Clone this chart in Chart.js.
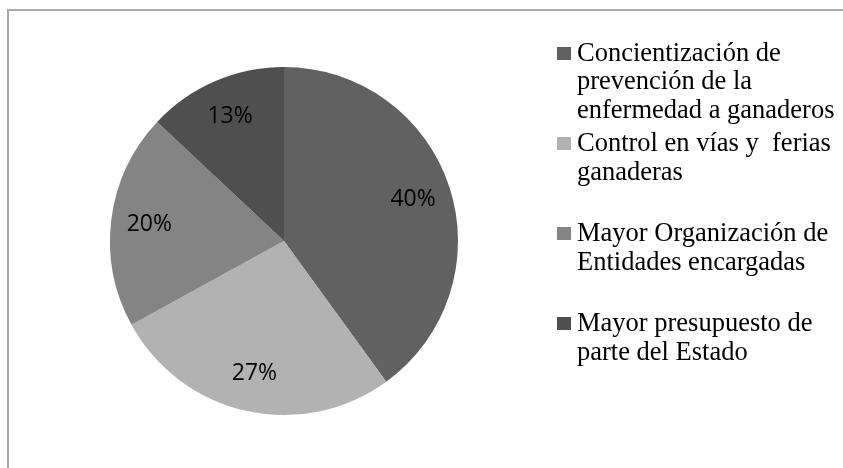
<!DOCTYPE html>
<html>
<head>
<meta charset="utf-8">
<script src="https://cdn.jsdelivr.net/npm/chart.js@4.4.0/dist/chart.umd.min.js"></script>
<style>
  html, body { margin: 0; padding: 0; background: #fff; overflow: hidden; }
  #frame {
    position: absolute; left: 7px; top: 9px; width: 900px; height: 520px;
    border-top: 2px solid #a8a8a8; border-left: 2px solid #a8a8a8;
  }
  #chart-box { position: absolute; left: 0; top: 0; width: 843px; height: 468px; }
  .legend-item { position: absolute; left: 557px; font-family: "Liberation Serif", "Times New Roman", serif; font-size: 26.5px; line-height: 28.7px; color: #000; white-space: pre; }
  .legend-item .box { position: absolute; left: 0; width: 14px; height: 13px; }
  .legend-item .txt { position: absolute; left: 20px; top: 0; }
</style>
</head>
<body>
<div id="frame"></div>
<div id="chart-box"><canvas id="pieCanvas"></canvas></div>
<div id="legend"></div>
<script>
// Categorias (cada una partida en lineas) y porcentajes
var categories = [
  ["Concientización de", "prevención de la", "enfermedad a ganaderos"],
  ["Control en vías y  ferias", "ganaderas"],
  ["Mayor Organización de", "Entidades encargadas"],
  ["Mayor presupuesto de", "parte del Estado"]
];
var percentValues = [40, 27, 20, 13];
var sliceColors = ["#616161", "#b2b2b2", "#848484", "#4f4f4f"];

// Linea base de la primera linea de cada entrada de la leyenda
var legendBaselines = [61, 151.5, 241.5, 331.5];

// Etiquetas de porcentaje dentro de cada porcion
var pctLabels = {
  id: "pctLabels",
  afterDatasetsDraw: function (chart) {
    var ctx = chart.ctx;
    var meta = chart.getDatasetMeta(0);
    ctx.save();
    ctx.font = '23px "Open Sans"';
    ctx.fillStyle = "#000";
    ctx.textAlign = "center";
    ctx.textBaseline = "middle";
    meta.data.forEach(function (arc, i) {
      var mid = (arc.startAngle + arc.endAngle) / 2;
      var r = arc.outerRadius * 0.78;
      ctx.fillText(percentValues[i] + "%", arc.x + Math.cos(mid) * r, arc.y + Math.sin(mid) * r);
    });
    ctx.restore();
  }
};

var pieCtx = document.getElementById("pieCanvas").getContext("2d");
var pieChart = new Chart(pieCtx, {
  type: "pie",
  data: {
    labels: categories.map(function (c) { return c.join(" "); }),
    datasets: [{
      data: percentValues,
      backgroundColor: sliceColors,
      borderWidth: 0
    }]
  },
  options: {
    responsive: true,
    maintainAspectRatio: false,
    animation: false,
    layout: { padding: { left: 110, right: 385, top: 67, bottom: 53 } },
    plugins: {
      legend: { display: false },
      tooltip: { enabled: false }
    }
  },
  plugins: [pctLabels]
});

// Leyenda en HTML a la derecha
var legendEl = document.getElementById("legend");
categories.forEach(function (lines, i) {
  var item = document.createElement("div");
  item.className = "legend-item";
  item.style.top = (legendBaselines[i] - 23.3) + "px";
  var box = document.createElement("span");
  box.className = "box";
  box.style.background = sliceColors[i];
  box.style.top = "9px";
  var txt = document.createElement("div");
  txt.className = "txt";
  txt.textContent = lines.join("\n");
  item.appendChild(box);
  item.appendChild(txt);
  legendEl.appendChild(item);
});
</script>
</body>
</html>
